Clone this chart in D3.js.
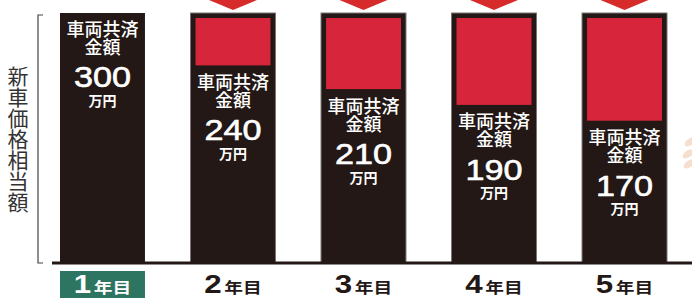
<!DOCTYPE html>
<html>
<head>
<meta charset="utf-8">
<script src="https://cdn.jsdelivr.net/npm/d3@7"></script>
<style>
  body { margin: 0; background: #fff; }
  svg { display: block; }
</style>
</head>
<body>
<div id="chart"></div>
<script>
// Data
const years = [1, 2, 3, 4, 5];
const yearSuffix = "年目";
const amounts = [300, 240, 210, 190, 170];   // 車両共済金額 (万円)
const newCarValue = 300;                    // 新車価格相当額
const labelLine1 = "車両共済";
const labelLine2 = "金額";
const unitLabel = "万円";
const axisTitle = "新車価格相当額";

const width = 692, height = 298;
const barTop = 13, baseY = 263;
const dark = "#231815", red = "#d7263b", green = "#2d7461";
const cjk = "'Noto Sans CJK JP', 'Noto Sans', sans-serif";

const data = years.map((yr, i) => ({year: yr, amount: amounts[i], loss: newCarValue - amounts[i]}));

const svg = d3.select("#chart").append("svg")
    .attr("width", width)
    .attr("height", height);

// x scale: one band per year
const x = d3.scaleBand()
    .domain(years)
    .range([60, 667])
    .paddingInner(0.349)
    .paddingOuter(0);

// full bar height = new-car value
const y = d3.scaleLinear()
    .domain([0, newCarValue])
    .range([baseY, barTop]);

// red "loss" block inside the bar
const lossScale = d3.scaleLinear()
    .domain([0, newCarValue])
    .range([0, 237]);

// Bracket on the left
svg.append("path")
    .attr("d", `M43,${y(newCarValue) + 2}H38V${baseY}H43`)
    .attr("fill", "none")
    .attr("stroke", "#444")
    .attr("stroke-width", 1.2);

// Vertical axis title
svg.append("text")
    .attr("x", 18)
    .attr("y", 139)
    .attr("writing-mode", "vertical-rl")
    .attr("text-anchor", "middle")
    .attr("font-family", cjk)
    .attr("font-size", 21)
    .attr("fill", "#333")
    .text(axisTitle);

// Bars
svg.selectAll(".bar")
    .data(data)
    .enter().append("rect")
    .attr("class", "bar")
    .attr("x", d => x(d.year))
    .attr("y", y(newCarValue))
    .attr("width", x.bandwidth())
    .attr("height", baseY - y(newCarValue))
    .attr("fill", dark)
    .attr("stroke", d => d.loss > 0 ? "#7a7474" : "none")
    .attr("stroke-width", 1);

// Red loss blocks
const redInset = 5;
svg.selectAll(".loss")
    .data(data.filter(d => d.loss > 0))
    .enter().append("rect")
    .attr("class", "loss")
    .attr("x", d => x(d.year) + redInset)
    .attr("y", barTop + redInset)
    .attr("width", x.bandwidth() - 2 * redInset)
    .attr("height", d => lossScale(d.loss))
    .attr("fill", red);

// Arrows pointing down into the bars
svg.selectAll(".arrow")
    .data(data.filter(d => d.loss > 0))
    .enter().append("path")
    .attr("class", "arrow")
    .attr("d", d => {
        const cx = x(d.year) + x.bandwidth() / 2;
        return `M${cx - 10},-10H${cx + 10}V0H${cx + 24}L${cx},10L${cx - 24},0H${cx - 10}Z`;
    })
    .attr("fill", "#d62a2b");

// Text inside bars: one multi-line label per bar
const labels = svg.selectAll(".barLabel")
    .data(data)
    .enter().append("text")
    .attr("class", "barLabel")
    .attr("transform", d => {
        const cx = x(d.year) + x.bandwidth() / 2;
        const top = d.loss > 0 ? barTop + redInset + lossScale(d.loss) + 9 : barTop + 8;
        return `translate(${cx},${top})`;
    })
    .attr("fill", "#fff")
    .attr("text-anchor", "middle");

labels.append("tspan")
    .attr("x", 0)
    .attr("y", 14.5)
    .attr("font-family", cjk)
    .attr("font-size", 18)
    .attr("font-weight", 500)
    .text(labelLine1);

labels.append("tspan")
    .attr("x", 0)
    .attr("y", 32.5)
    .attr("font-family", cjk)
    .attr("font-size", 18)
    .attr("font-weight", 500)
    .text(labelLine2);

labels.append("tspan")
    .attr("x", 0)
    .attr("y", 66)
    .attr("font-family", "'Liberation Sans', Arial, sans-serif")
    .attr("font-size", 29)
    .attr("stroke", "#fff")
    .attr("stroke-width", 0.6)
    .attr("textLength", 57)
    .attr("lengthAdjust", "spacingAndGlyphs")
    .text(d => d.amount);

labels.append("tspan")
    .attr("x", 0)
    .attr("y", 84.5)
    .attr("font-family", cjk)
    .attr("font-size", 14)
    .attr("font-weight", 700)
    .text(unitLabel);

// Baseline
svg.append("line")
    .attr("x1", 52)
    .attr("x2", width)
    .attr("y1", baseY)
    .attr("y2", baseY)
    .attr("stroke", dark)
    .attr("stroke-width", 3);

// Year labels
svg.append("rect")
    .attr("x", x(years[0]))
    .attr("y", 271)
    .attr("width", x.bandwidth())
    .attr("height", 30)
    .attr("fill", green);

const yearLabels = svg.selectAll(".yearLabel")
    .data(data)
    .enter().append("g")
    .attr("class", "yearLabel")
    .attr("transform", d => `translate(${x(d.year) + x.bandwidth() / 2},293) scale(1.25,1)`);

yearLabels.append("text")
    .attr("text-anchor", "middle")
    .attr("fill", (d, i) => i === 0 ? "#fff" : dark)
    .attr("font-weight", 700)
    .call(t => t.append("tspan")
        .attr("font-family", "'Liberation Sans', Arial, sans-serif")
        .attr("font-size", 25)
        .text(d => d.year))
    .call(t => t.append("tspan")
        .attr("dx", 2)
        .attr("font-family", cjk)
        .attr("font-size", 15)
        .text(yearSuffix));

// Edge of the photo at the right border (decoration)
const deco = svg.append("g").attr("fill", "#f0c0a2").attr("opacity", 0.5);
[[690, 142], [688, 154], [689, 164]].forEach(([cx, cy]) => {
    deco.append("ellipse")
        .attr("cx", cx)
        .attr("cy", cy)
        .attr("rx", 6)
        .attr("ry", 3.5)
        .attr("transform", `rotate(-35,${cx},${cy})`);
});
</script>
</body>
</html>
